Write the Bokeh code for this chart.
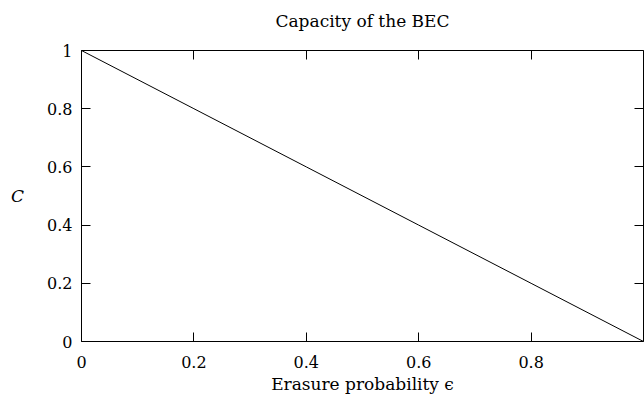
from bokeh.plotting import figure
from bokeh.models import Range1d, LinearAxis, FixedTicker
from bokeh.embed import file_html
from bokeh.resources import INLINE

# data
eps = [0.0, 0.2, 0.4, 0.6, 0.8, 1.0]
cap = [1.0, 0.8, 0.6, 0.4, 0.2, 0.0]
x_ticks = [0, 0.2, 0.4, 0.6, 0.8]
y_ticks = [0, 0.2, 0.4, 0.6, 0.8, 1.0]
title_text = "Capacity of the BEC"
x_label = "Erasure probability \u03f5"
y_label = "C"

FONT = "DejaVu Serif"
TICK_FS = "16px"

p = figure(width=644, height=396, output_backend="svg", toolbar_location=None,
           x_range=Range1d(0, 1), y_range=Range1d(0, 1),
           x_axis_location=None, y_axis_location=None,
           min_border_left=81, min_border_right=1, min_border_top=50, min_border_bottom=53)
p.grid.visible = False
p.outline_line_color = "black"
p.outline_line_width = 1
p.background_fill_color = "white"
p.border_fill_color = "white"

def style(ax, labels=True):
    ax.axis_line_color = None
    ax.major_tick_in = 9
    ax.major_tick_out = 0
    ax.minor_tick_in = 0
    ax.minor_tick_out = 0
    ax.major_tick_line_color = "black"
    ax.major_label_text_font = FONT
    ax.major_label_text_font_size = TICK_FS
    ax.major_label_text_color = "black"
    ax.axis_label_text_color = "black"
    ax.axis_label_text_font = FONT
    ax.axis_label_text_font_size = "17px"
    ax.axis_label_text_font_style = "normal"
    if not labels:
        ax.major_label_text_color = None
        ax.major_label_text_font_size = "1px"
        ax.major_label_standoff = 0

bottom = LinearAxis(ticker=FixedTicker(ticks=x_ticks), axis_label=x_label)
style(bottom)
bottom.major_label_standoff = 14
bottom.axis_label_standoff = 3
p.add_layout(bottom, "below")

left = LinearAxis(ticker=FixedTicker(ticks=y_ticks), axis_label=y_label)
style(left)
left.major_label_standoff = 9
left.axis_label_text_font_style = "italic"
left.axis_label_standoff = 20
left.axis_label_orientation = "horizontal"
p.add_layout(left, "left")

# top axis: mirrored ticks, its axis label serves as the chart title
top = LinearAxis(ticker=FixedTicker(ticks=x_ticks), axis_label=title_text)
style(top, labels=False)
top.axis_label_standoff = 20
p.add_layout(top, "above")

right = LinearAxis(ticker=FixedTicker(ticks=y_ticks))
style(right, labels=False)
p.add_layout(right, "right")

p.line(eps, cap, line_color="black", line_width=1)

open("out.html", "w").write(file_html(p, INLINE))
